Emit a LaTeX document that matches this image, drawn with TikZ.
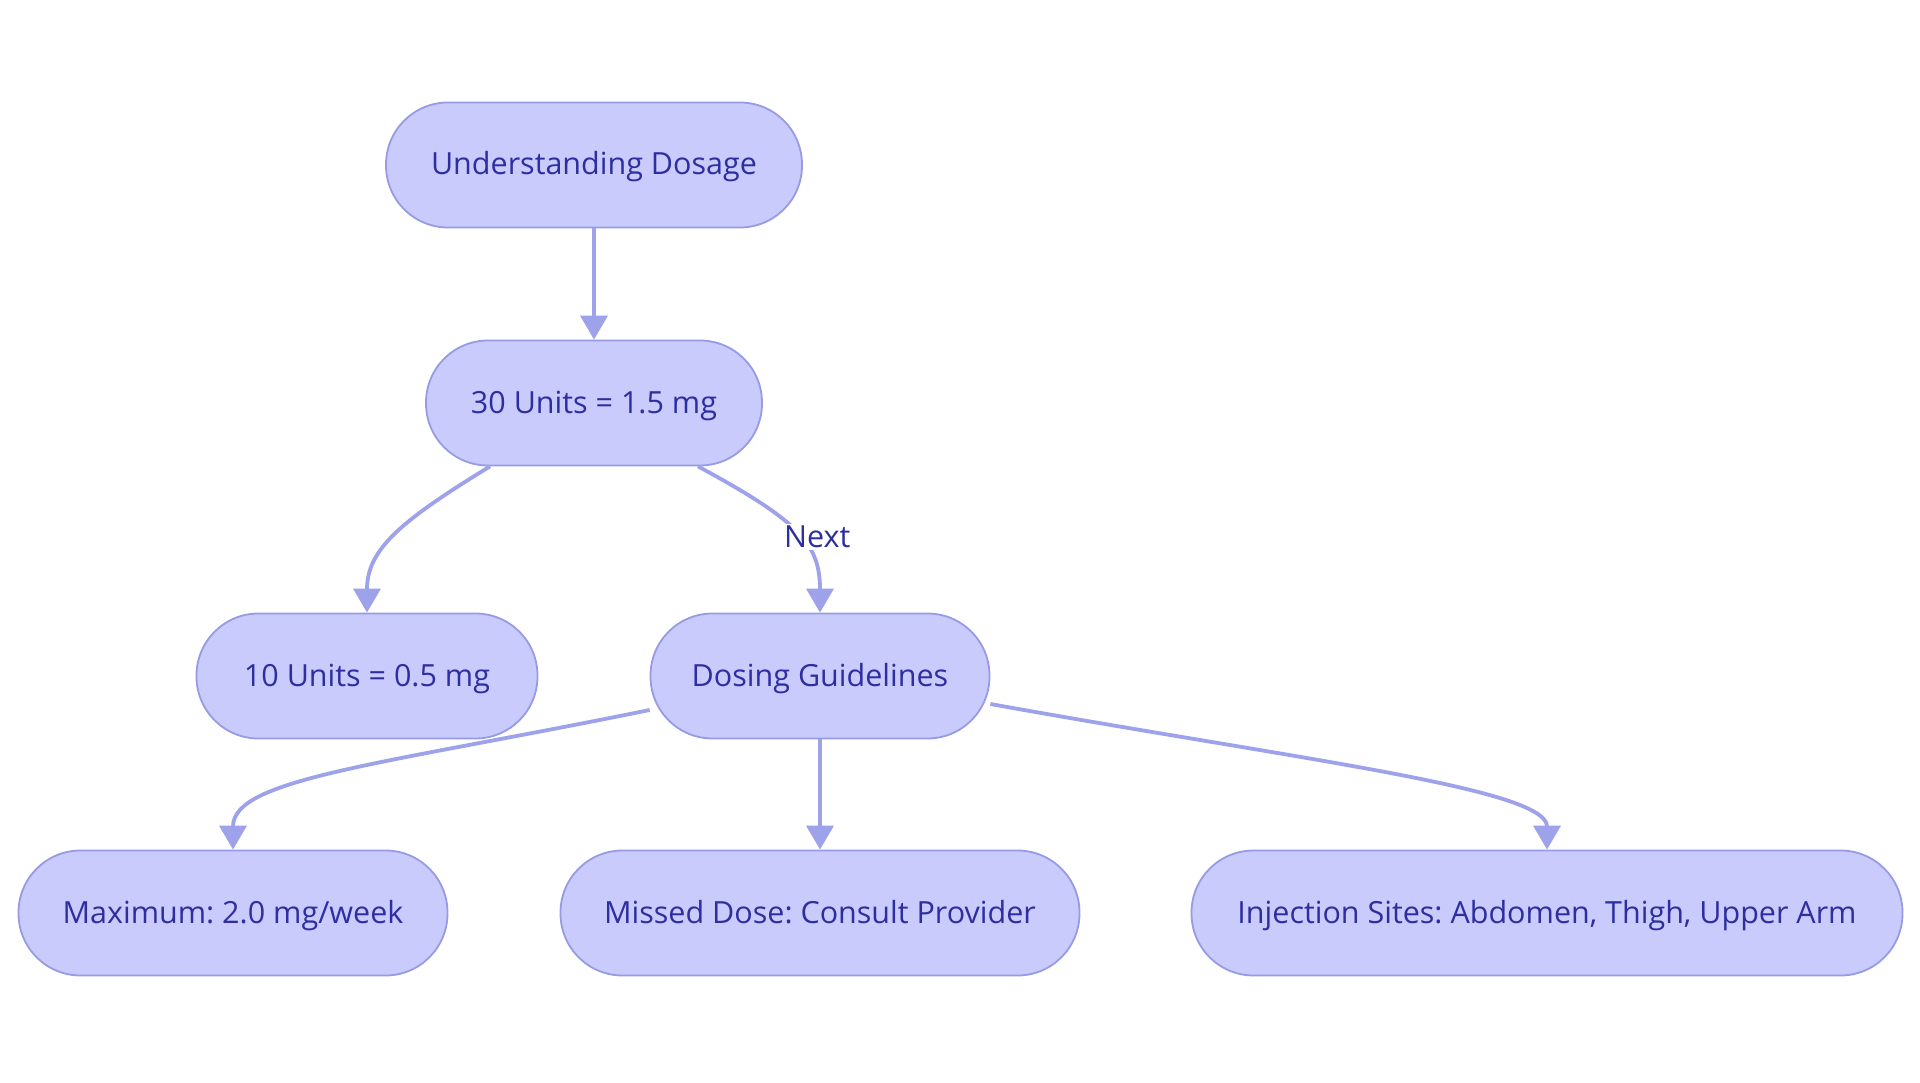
\documentclass[tikz,border=0pt]{standalone}
\usepackage{fontspec}
\setmainfont{Open Sans}
\usetikzlibrary{arrows.meta}
\definecolor{nodefill}{RGB}{200,203,252}
\definecolor{nodedraw}{RGB}{151,155,228}
\definecolor{edgecol}{RGB}{158,162,234}
\definecolor{txtcol}{RGB}{46,46,160}
\tikzset{
  box/.style={draw=nodedraw, fill=nodefill, line width=1.8pt, rounded corners=62pt,
    minimum height=125pt, inner sep=0pt, text=txtcol, text height=24.5pt, text depth=4.5pt,
    font=\fontsize{30.5}{36}\selectfont},
  conn/.style={draw=edgecol, line width=3.8pt, -{Triangle[width=27pt,length=24pt]}},
  lbl/.style={fill=white, text=txtcol, inner sep=2pt, font=\fontsize{30.5}{36}\selectfont}
}
\begin{document}
\frenchspacing
\begin{tikzpicture}[x=1pt,y=-1pt]
\useasboundingbox (0,0) rectangle (1920,1083);
\fill[white] (0,0) rectangle (1920,1083);
\node[box, minimum width=416pt] (ud) at (594,165) {Understanding Dosage};
\node[box, minimum width=336pt] (u30) at (594,403) {30 Units = 1.5 mg};
\node[box, minimum width=341pt] (u10) at (367,676) {10 Units = 0.5 mg};
\node[box, minimum width=339pt] (dos) at (820,676) {Dosing Guidelines};
\node[box, minimum width=429pt] (max) at (233,913) {Maximum: 2.0 mg/week};
\node[box, minimum width=519pt] (mis) at (820,913) {Missed Dose: Consult Provider};
\node[box, minimum width=711pt] (inj) at (1547,913) {Injection Sites: Abdomen, Thigh, Upper Arm};

\draw[conn] (ud.south) -- (u30.north);
\draw[conn] ([xshift=-104pt]u30.south) .. controls +(-90,55) and +(0,-63) .. (u10.north);
\draw[conn] ([xshift=104pt]u30.south) .. controls +(102,55) and +(0,-68) .. node[lbl, pos=0.5, xshift=20pt, yshift=-2pt] (next) {Next} (dos.north);
\draw[conn] ([yshift=-34pt]dos.west) .. controls +(-270,55) and +(0,-71) .. (max.north);
\draw[conn] (dos.south) -- (mis.north);
\draw[conn] ([yshift=-28pt]dos.east) .. controls +(311,56) and +(0,-61) .. (inj.north);
\end{tikzpicture}
\end{document}
